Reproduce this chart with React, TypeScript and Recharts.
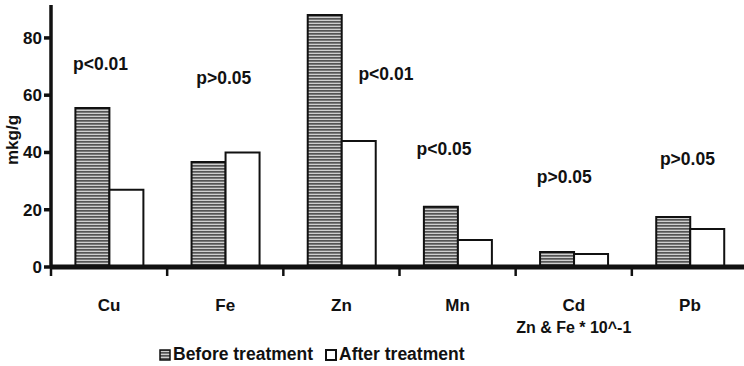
import React from 'react';
import { ComposedChart, Bar, Scatter, XAxis, YAxis, Legend } from 'recharts';

const categories = ['Cu', 'Fe', 'Zn', 'Mn', 'Cd', 'Pb'];
const beforeValues = [55.5, 36.7, 88, 21, 5.2, 17.5];
const afterValues = [27, 40, 44, 9.4, 4.5, 13.3];
const pTexts = ['p<0.01', 'p>0.05', 'p<0.01', 'p<0.05', 'p>0.05', 'p>0.05'];
const pLevels = [68.8, 63.9, 65.3, 39.1, 29.3, 35.6];
const yTicks = [0, 20, 40, 60, 80];
const seriesNames = ['Before treatment', 'After treatment'];
const axisNote = 'Zn & Fe * 10^-1';
const noteCategory = 'Cd';
const yLabel = 'mkg/g';

// style: horizontal nudges of the p-value labels (px)
const pShift: Record<string, number> = { Cu: -8.5, Fe: -1.5, Zn: 44.5, Mn: -13.5, Cd: -9.5, Pb: -2.5 };

const data = categories.map((name, i) => ({
  name,
  before: beforeValues[i],
  after: afterValues[i],
  pText: pTexts[i],
  pY: pLevels[i],
}));

const FONT = '"Liberation Sans", Arial, sans-serif';

const CategoryTick = (props: any) => {
  const { x, y, payload } = props;
  const half = payload && typeof payload.offset === 'number' ? payload.offset : 58;
  return (
    <g>
      <line x1={x - half} y1={y} x2={x - half} y2={y + 9} stroke="#111" strokeWidth={2.5} />
      <text x={x} y={y + 44} textAnchor="middle" fontFamily={FONT} fontWeight="bold" fontSize={17} fill="#111">
        {payload.value}
      </text>
      {payload.value === noteCategory && (
        <text x={x} y={y + 66} textAnchor="middle" fontFamily={FONT} fontWeight="bold" fontSize={16} fill="#111">
          {axisNote}
        </text>
      )}
    </g>
  );
};

const PLabel = (props: any) => {
  const { cx, cy, payload } = props;
  if (cx == null || cy == null) return null;
  return (
    <text x={cx + (pShift[payload.name] || 0)} y={cy} textAnchor="middle" fontFamily={FONT} fontWeight="bold" fontSize={17.5} fill="#111">
      {payload.pText}
    </text>
  );
};

const LegendContent = () => (
  <div style={{ display: 'flex', alignItems: 'center', fontFamily: FONT, fontWeight: 'bold', fontSize: 17.5, color: '#111', whiteSpace: 'nowrap' }}>
    <svg width={12} height={12} style={{ marginRight: 2 }}>
      <rect x={1} y={1} width={10} height={10} fill="url(#stripes)" stroke="#111" strokeWidth={1.5} />
    </svg>
    <span>{seriesNames[0]}</span>
    <svg width={12} height={12} style={{ marginLeft: 12, marginRight: 2 }}>
      <rect x={1} y={1} width={10} height={10} fill="#fff" stroke="#111" strokeWidth={2} />
    </svg>
    <span>{seriesNames[1]}</span>
  </div>
);

export default function App() {
  return (
    <div style={{ position: 'absolute', left: 0, top: 0, width: 744, height: 366, overflow: 'hidden', background: '#fff' }}>
      <ComposedChart
        width={760}
        height={366}
        data={data}
        margin={{ top: 5, right: 12, left: 0, bottom: 0 }}
        barCategoryGap="21%"
        barGap={0}
      >
        <defs>
          <pattern id="stripes" width={4} height={3} patternUnits="userSpaceOnUse">
            <rect x={0} y={0} width={4} height={3} fill="#cfcfcf" />
            <rect x={0} y={0} width={4} height={1.7} fill="#555" />
          </pattern>
        </defs>
        <XAxis
          dataKey="name"
          height={99}
          axisLine={{ stroke: '#111', strokeWidth: 5 }}
          tickLine={false}
          tickSize={0}
          tickMargin={0}
          tick={<CategoryTick />}
          interval={0}
        />
        <YAxis
          width={51}
          domain={[0, 91.5]}
          ticks={yTicks}
          allowDataOverflow
          axisLine={{ stroke: '#111', strokeWidth: 3.5 }}
          tickLine={{ stroke: '#111', strokeWidth: 3.5 }}
          tickSize={7}
          tick={{ fontFamily: FONT, fontWeight: 'bold', fontSize: 17, fill: '#111' }}
          label={{
            content: (p: any) => {
              const vb = p.viewBox || { x: 0, y: 5, height: 262 };
              const lx = vb.x + 12;
              const ly = vb.y + vb.height / 2 + 4;
              return (
                <text x={lx} y={ly} transform={`rotate(-90 ${lx} ${ly})`} textAnchor="middle" dominantBaseline="central" fontFamily={FONT} fontWeight="bold" fontSize={17} fill="#111">
                  {yLabel}
                </text>
              );
            },
          }}
        />
        <Bar dataKey="before" name={seriesNames[0]} fill="url(#stripes)" stroke="#111" strokeWidth={2} isAnimationActive={false} />
        <Bar dataKey="after" name={seriesNames[1]} fill="#fff" stroke="#111" strokeWidth={2} isAnimationActive={false} />
        <Scatter dataKey="pY" shape={<PLabel />} isAnimationActive={false} legendType="none" />
        <Legend
          layout="horizontal"
          verticalAlign="middle"
          align="center"
          content={<LegendContent />}
          wrapperStyle={{ left: 159, top: 344, width: 'auto' }}
        />
      </ComposedChart>
    </div>
  );
}
